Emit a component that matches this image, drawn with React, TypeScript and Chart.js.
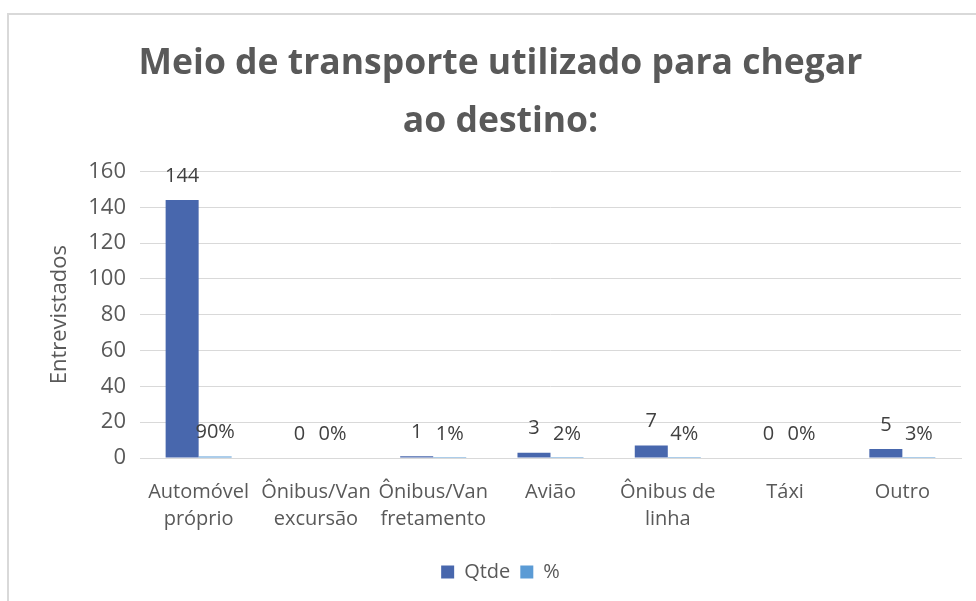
import React, { useEffect, useRef } from "react";
import { Chart, registerables } from "chart.js";

Chart.register(...registerables);

const categories: string[][] = [
  ["Automóvel", "próprio"],
  ["Ônibus/Van", "excursão"],
  ["Ônibus/Van", "fretamento"],
  ["Avião"],
  ["Ônibus de", "linha"],
  ["Táxi"],
  ["Outro"],
];
const qtde: number[] = [144, 0, 1, 3, 7, 0, 5];
const pct: number[] = [0.9, 0, 0.01, 0.02, 0.04, 0, 0.03];
const yTicks: number[] = [0, 20, 40, 60, 80, 100, 120, 140, 160];

const titleLines = ["Meio de transporte utilizado para chegar", "ao destino:"];
const FONT = "'Open Sans', sans-serif";

const framePlugin = {
  id: "frame",
  beforeDraw(chart: any) {
    const ctx = chart.ctx;
    ctx.save();
    ctx.fillStyle = "#ffffff";
    ctx.fillRect(0, 0, chart.width, chart.height);
    ctx.fillStyle = "#d9d9d9";
    ctx.fillRect(7, 13, 2, chart.height - 13);
    ctx.fillRect(7, 13, chart.width - 7, 2);
    ctx.restore();
  },
};

const labelPlugin = {
  id: "barLabels",
  afterDatasetsDraw(chart: any) {
    const ctx = chart.ctx;
    ctx.save();
    ctx.font = `20px ${FONT}`;
    ctx.fillStyle = "#404040";
    ctx.textAlign = "center";
    ctx.textBaseline = "middle";
    chart.data.datasets.forEach((ds: any, di: number) => {
      const meta = chart.getDatasetMeta(di);
      meta.data.forEach((bar: any, i: number) => {
        const v = ds.data[i];
        const txt = di === 0 ? String(v) : `${Math.round(v * 100)}%`;
        ctx.fillText(txt, bar.x, bar.y - 24);
      });
    });
    ctx.restore();
  },
};

export default function App() {
  const ref = useRef<HTMLCanvasElement | null>(null);
  useEffect(() => {
    if (!ref.current) return;
    const chart = new Chart(ref.current, {
      type: "bar",
      data: {
        labels: categories,
        datasets: [
          {
            label: "Qtde",
            data: qtde,
            backgroundColor: "#4867AD",
            categoryPercentage: 0.563,
            barPercentage: 1,
          },
          {
            label: "%",
            data: pct,
            backgroundColor: "#5B9BD5",
            categoryPercentage: 0.563,
            barPercentage: 1,
          },
        ],
      },
      options: {
        responsive: false,
        animation: false,
        layout: { padding: { left: 40, right: 15, top: 0, bottom: 9 } },
        plugins: {
          title: {
            display: true,
            text: titleLines,
            color: "#595959",
            font: { family: FONT, size: 35.5, weight: "bold", lineHeight: 1.64 },
            padding: { top: 35, bottom: 20 },
          },
          legend: {
            position: "bottom",
            labels: {
              boxWidth: 13,
              boxHeight: 13,
              padding: 10,
              color: "#595959",
              font: { family: FONT, size: 20 },
            },
          },
          tooltip: { enabled: false },
        },
        scales: {
          x: {
            grid: { display: false, drawTicks: false },
            border: { display: true, color: "#d9d9d9", width: 1 },
            ticks: {
              color: "#595959",
              font: { family: FONT, size: 20, lineHeight: 1.38 },
              padding: 20,
              maxRotation: 0,
              autoSkip: false,
            },
            afterFit: (scale: any) => {
              scale.height = 94;
            },
          },
          y: {
            min: 0,
            max: 160,
            afterBuildTicks: (scale: any) => {
              scale.ticks = yTicks.map((v) => ({ value: v }));
            },
            grid: { color: "#d9d9d9", lineWidth: 1, drawTicks: false },
            border: { display: false },
            ticks: {
              color: "#595959",
              font: { family: FONT, size: 22 },
              padding: 14,
            },
            title: {
              display: true,
              text: "Entrevistados",
              color: "#595959",
              font: { family: FONT, size: 22, lineHeight: 1.2 },
              padding: { top: 7, bottom: 0 },
            },
            afterFit: (scale: any) => {
              scale.width = 100;
            },
          },
        },
      },
      plugins: [framePlugin, labelPlugin],
    });
    return () => chart.destroy();
  }, []);
  return (
    <div style={{ position: "absolute", left: 0, top: 0, width: 976, height: 601 }}>
      <canvas ref={ref} width={976} height={601} style={{ display: "block" }} />
    </div>
  );
}
